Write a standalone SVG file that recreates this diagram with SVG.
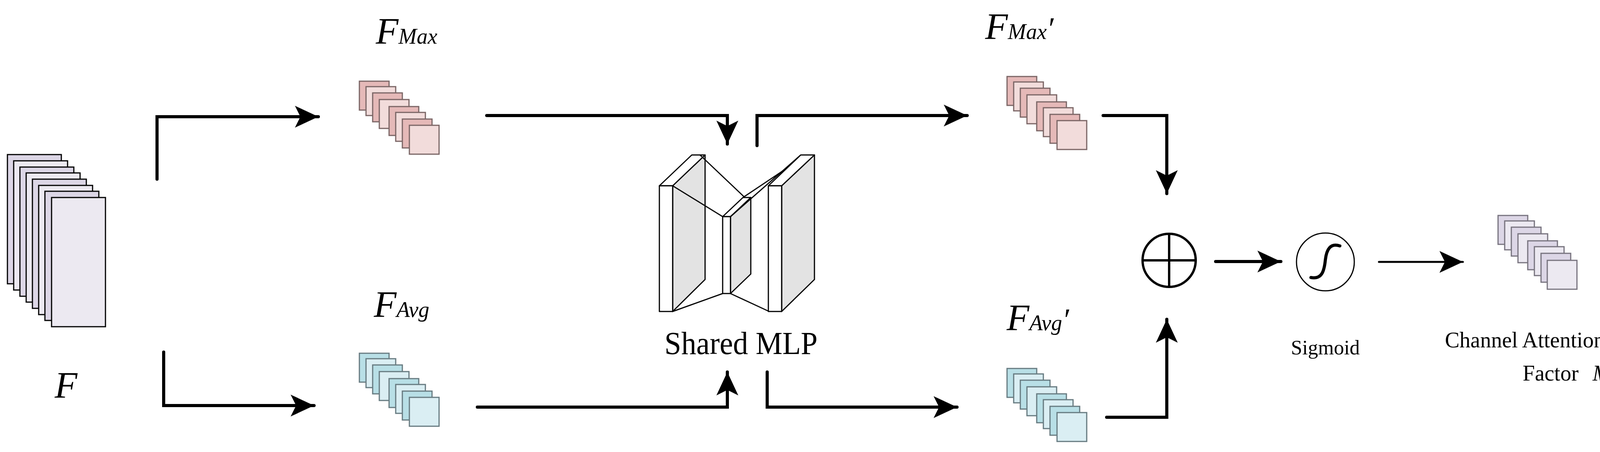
<svg xmlns="http://www.w3.org/2000/svg" width="4417" height="1158" viewBox="0 0 4417 1158">
<style>
.conn{fill:none;stroke:#000;stroke-width:8;stroke-linecap:round;stroke-linejoin:miter}
.thin{stroke-width:5}
.fa{fill:#dcd6e6;stroke:#000;stroke-width:3}
.fb{fill:#ece9f1;stroke:#000;stroke-width:3}
.ra{fill:#e5b9b8;stroke:#7a6565;stroke-width:3}
.rb{fill:#f2dcdb;stroke:#7a6565;stroke-width:3}
.ba{fill:#b8dfe6;stroke:#667a80;stroke-width:3}
.bb{fill:#daeef3;stroke:#667a80;stroke-width:3}
.pa{fill:#dcd6e6;stroke:#77737e;stroke-width:3}
.pb{fill:#ece9f1;stroke:#77737e;stroke-width:3}
.w{fill:#fff;stroke:#000;stroke-width:3;stroke-linejoin:round}
.g{fill:#e3e3e3;stroke:#000;stroke-width:3;stroke-linejoin:round}
.l{fill:none;stroke:#000;stroke-width:3}
text{font-family:"Liberation Serif","Times New Roman",serif;fill:#000}
.it{font-style:italic}
</style>
<defs>
<marker id="ah" markerUnits="userSpaceOnUse" viewBox="-1 -30 62 60" refX="60" refY="0" markerWidth="62" markerHeight="60" orient="auto">
<path d="M0,-28 L60,0 L0,28 L14,0 Z" fill="#000"/>
</marker>
<g id="stk8">
<rect x="0" y="0" width="76" height="74"/>
</g>
</defs>

<g id="nodeF">
<rect class="fa" x="19" y="396" width="138" height="331"/>
<rect class="fb" x="35" y="412" width="138" height="331"/>
<rect class="fa" x="51" y="428" width="138" height="331"/>
<rect class="fb" x="67" y="443" width="138" height="331"/>
<rect class="fa" x="83" y="459" width="138" height="331"/>
<rect class="fb" x="99" y="475" width="138" height="331"/>
<rect class="fa" x="115" y="490" width="138" height="331"/>
<rect class="fb" x="132" y="506" width="138" height="331"/>
<text class="it" x="140" y="1019" font-size="95">F</text>
</g>

<g id="nodeFMax">
<rect class="ra" x="920" y="208" width="76" height="74"/>
<rect class="rb" x="937" y="222" width="76" height="74"/>
<rect class="ra" x="954" y="238" width="76" height="74"/>
<rect class="rb" x="971" y="255" width="76" height="74"/>
<rect class="ra" x="996" y="273" width="76" height="74"/>
<rect class="rb" x="1013" y="288" width="76" height="74"/>
<rect class="ra" x="1030" y="305" width="76" height="74"/>
<rect class="rb" x="1048" y="321" width="76" height="74"/>
<text class="it" x="962" y="112" font-size="95">F<tspan font-size="56">Max</tspan></text>
</g>

<g id="nodeFAvg">
<rect class="ba" x="920" y="905" width="76" height="74"/>
<rect class="bb" x="937" y="919" width="76" height="74"/>
<rect class="ba" x="954" y="935" width="76" height="74"/>
<rect class="bb" x="971" y="952" width="76" height="74"/>
<rect class="ba" x="996" y="970" width="76" height="74"/>
<rect class="bb" x="1013" y="985" width="76" height="74"/>
<rect class="ba" x="1030" y="1002" width="76" height="74"/>
<rect class="bb" x="1048" y="1018" width="76" height="74"/>
<text class="it" x="957" y="812" font-size="95">F<tspan font-size="56">Avg</tspan></text>
</g>

<g id="nodeMLP">
<polygon class="g" points="1722,476 1805,397 1805,716 1722,798"/>
<polygon class="w" points="1688,476 1771,397 1805,397 1722,476"/>
<rect class="w" x="1688" y="476" width="34" height="322"/>
<line class="l" x1="1722" y1="476" x2="1850" y2="555"/>
<line class="l" x1="1792" y1="397" x2="1910" y2="509"/>
<line class="l" x1="1722" y1="798" x2="1850" y2="752"/>
<polygon class="g" points="1870,555 1922,506 1922,702 1870,752"/>
<polygon class="w" points="1850,555 1902,506 1922,506 1870,555"/>
<rect class="w" x="1850" y="555" width="20" height="197"/>
<line class="l" x1="1870" y1="555" x2="2050" y2="397"/>
<line class="l" x1="1902" y1="506" x2="2065" y2="397"/>
<line class="l" x1="1870" y1="752" x2="1967" y2="797"/>
<polygon class="g" points="2001,476 2085,397 2085,716 2001,798"/>
<polygon class="w" points="1967,476 2050,397 2085,397 2001,476"/>
<rect class="w" x="1967" y="476" width="34" height="322"/>
<text x="1897" y="907" font-size="82" text-anchor="middle" textLength="392" lengthAdjust="spacingAndGlyphs">Shared MLP</text>
</g>

<g id="nodeFMaxP">
<rect class="ra" x="2578" y="196" width="76" height="74"/>
<rect class="rb" x="2595" y="210" width="76" height="74"/>
<rect class="ra" x="2612" y="226" width="76" height="74"/>
<rect class="rb" x="2629" y="243" width="76" height="74"/>
<rect class="ra" x="2654" y="261" width="76" height="74"/>
<rect class="rb" x="2671" y="276" width="76" height="74"/>
<rect class="ra" x="2688" y="293" width="76" height="74"/>
<rect class="rb" x="2706" y="309" width="76" height="74"/>
<text class="it" x="2522" y="100" font-size="95">F<tspan font-size="56">Max</tspan><tspan font-size="80">′</tspan></text>
</g>

<g id="nodeFAvgP">
<rect class="ba" x="2578" y="944" width="76" height="74"/>
<rect class="bb" x="2595" y="958" width="76" height="74"/>
<rect class="ba" x="2612" y="974" width="76" height="74"/>
<rect class="bb" x="2629" y="991" width="76" height="74"/>
<rect class="ba" x="2654" y="1009" width="76" height="74"/>
<rect class="bb" x="2671" y="1024" width="76" height="74"/>
<rect class="ba" x="2688" y="1041" width="76" height="74"/>
<rect class="bb" x="2706" y="1057" width="76" height="74"/>
<text class="it" x="2577" y="846" font-size="95">F<tspan font-size="56">Avg</tspan><tspan font-size="80">′</tspan></text>
</g>

<g id="nodeSum">
<circle cx="2993" cy="667" r="68" fill="#fff" stroke="#000" stroke-width="6"/>
<line x1="2925" y1="667" x2="3061" y2="667" stroke="#000" stroke-width="6"/>
<line x1="2993" y1="599" x2="2993" y2="735" stroke="#000" stroke-width="6"/>
</g>

<g id="nodeSigmoid">
<circle cx="3393" cy="671" r="74" fill="#fff" stroke="#000" stroke-width="3"/>
<path d="M3430,630 C3405,622 3396,640 3393,665 C3390,695 3384,716 3356,711" fill="none" stroke="#000" stroke-width="8" stroke-linecap="round"/>
<text x="3393" y="908" font-size="52" text-anchor="middle">Sigmoid</text>
</g>

<g id="nodeMc">
<rect class="pa" x="3835" y="552" width="76" height="74"/>
<rect class="pb" x="3852" y="566" width="76" height="74"/>
<rect class="pa" x="3869" y="582" width="76" height="74"/>
<rect class="pb" x="3886" y="599" width="76" height="74"/>
<rect class="pa" x="3911" y="617" width="76" height="74"/>
<rect class="pb" x="3928" y="632" width="76" height="74"/>
<rect class="pa" x="3945" y="649" width="76" height="74"/>
<rect class="pb" x="3961" y="667" width="76" height="74"/>
<text x="4026" y="890" font-size="56" text-anchor="middle">Channel Attention Weighting</text>
<text x="3898" y="975" font-size="56">Factor<tspan class="it" dx="36">M</tspan><tspan class="it" font-size="38">C</tspan></text>
</g>

<g id="connectors">
<path class="conn" d="M402,459 V299 H815" marker-end="url(#ah)"/>
<path class="conn" d="M419,902 V1039 H804" marker-end="url(#ah)"/>
<path class="conn" d="M1246,296 H1862 V369" marker-end="url(#ah)"/>
<path class="conn" d="M1222,1043 H1862 V953" marker-end="url(#ah)"/>
<path class="conn" d="M1938,373 V296 H2476" marker-end="url(#ah)"/>
<path class="conn" d="M1964,953 V1043 H2450" marker-end="url(#ah)"/>
<path class="conn" d="M2824,296 H2987 V496" marker-end="url(#ah)"/>
<path class="conn" d="M2833,1069 H2987 V818" marker-end="url(#ah)"/>
<path class="conn" d="M3112,670 H3279" marker-end="url(#ah)"/>
<path class="conn thin" d="M3530,671 H3745" marker-end="url(#ah)"/>
</g>
</svg>
